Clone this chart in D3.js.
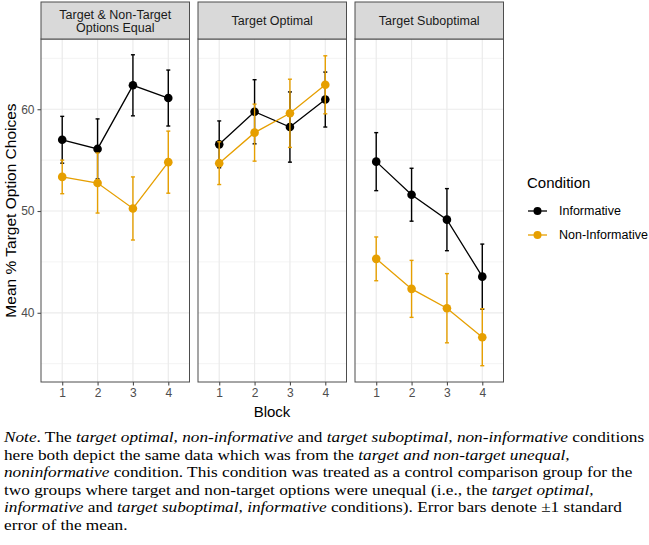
<!DOCTYPE html>
<html><head><meta charset="utf-8">
<script src="https://cdn.jsdelivr.net/npm/d3@7"></script>
<style>body{margin:0;background:#fff;} svg{display:block;}</style>
</head><body>
<svg id="c" width="649" height="545"></svg>
<script>
const facets = [["Target & Non-Target", "Options Equal"], ["Target Optimal"], ["Target Suboptimal"]];
const blocks = [1, 2, 3, 4];
const conditions = ["Informative", "Non-Informative"];
const colors = ["#000000", "#E69F00"];
// means [facet][condition][block]
const means = [
  [[57.0, 56.1, 62.35, 61.1], [53.35, 52.75, 50.25, 54.8]],
  [[56.55, 59.75, 58.25, 60.95], [54.7, 57.7, 59.6, 62.4]],
  [[54.85, 51.6, 49.15, 43.55], [45.3, 42.35, 40.45, 37.6]]
];
const ses = [
  [[2.3, 2.95, 3.0, 2.75], [1.65, 2.95, 3.1, 3.05]],
  [[2.3, 3.15, 3.45, 2.7], [2.1, 2.8, 3.35, 2.85]],
  [[2.85, 2.6, 3.05, 3.2], [2.15, 2.8, 3.4, 2.8]]
];
const yTicks = [40, 50, 60];
const yMinor = [35, 45, 55, 65];
const noteLines = [
  [["Note", "i"], [". The ", "n"], ["target optimal, non-informative", "i"], [" and ", "n"], ["target suboptimal, non-informative", "i"], [" conditions", "n"]],
  [["here both depict the same data which was from the ", "n"], ["target and non-target unequal,", "i"]],
  [["noninformative", "i"], [" condition. This condition was treated as a control comparison group for the", "n"]],
  [["two groups where target and non-target options were unequal (i.e., the ", "n"], ["target optimal,", "i"]],
  [["informative", "i"], [" and ", "n"], ["target suboptimal, informative", "i"], [" conditions). Error bars denote \u00b11 standard", "n"]],
  [["error of the mean.", "n"]]
];

const svg = d3.select("#c");
const font = "Liberation Sans, Arial, sans-serif";
const panelLeft = [41, 198, 355];
const panelW = 148.5;
const pTop = 39, pBottom = 382, stripTop = 2;
const y = d3.scaleLinear().domain([33.2, 66.9]).range([pBottom, pTop]);
const border = "#4d4d4d";

facets.forEach((fl, fi) => {
  const x0 = panelLeft[fi];
  const x = d3.scaleLinear().domain([0.4, 4.6]).range([x0, x0 + panelW]);
  const g = svg.append("g");
  // grid
  g.selectAll(".ymin").data(yMinor).join("line")
    .attr("x1", x0).attr("x2", x0 + panelW).attr("y1", d => y(d)).attr("y2", d => y(d))
    .attr("stroke", "#ebebeb").attr("stroke-width", 0.6);
  g.selectAll(".ymaj").data(yTicks).join("line")
    .attr("x1", x0).attr("x2", x0 + panelW).attr("y1", d => y(d)).attr("y2", d => y(d))
    .attr("stroke", "#ebebeb").attr("stroke-width", 1.2);
  g.selectAll(".xmaj").data(blocks).join("line")
    .attr("x1", d => x(d)).attr("x2", d => x(d)).attr("y1", pTop).attr("y2", pBottom)
    .attr("stroke", "#ebebeb").attr("stroke-width", 1.2);
  // data
  conditions.forEach((c, ci) => {
    const pts = blocks.map((b, i) => ({b, m: means[fi][ci][i], s: ses[fi][ci][i]}));
    const eg = g.append("g");
    eg.selectAll("line.v").data(pts).join("line")
      .attr("x1", d => x(d.b)).attr("x2", d => x(d.b))
      .attr("y1", d => y(d.m - d.s)).attr("y2", d => y(d.m + d.s))
      .attr("stroke", colors[ci]).attr("stroke-width", 1.4);
    [-1, 1].forEach(sg => {
      eg.selectAll("line.c" + (sg > 0 ? "t" : "b")).data(pts).join("line")
        .attr("x1", d => x(d.b) - 2).attr("x2", d => x(d.b) + 2)
        .attr("y1", d => y(d.m + sg * d.s)).attr("y2", d => y(d.m + sg * d.s))
        .attr("stroke", colors[ci]).attr("stroke-width", 1.4);
    });
    g.append("path").datum(pts)
      .attr("d", d3.line().x(d => x(d.b)).y(d => y(d.m)))
      .attr("fill", "none").attr("stroke", colors[ci]).attr("stroke-width", 1.3);
    g.selectAll(null).data(pts).join("circle")
      .attr("cx", d => x(d.b)).attr("cy", d => y(d.m)).attr("r", 4.3)
      .attr("fill", colors[ci]);
  });
  // border
  g.append("rect").attr("x", x0).attr("y", pTop).attr("width", panelW).attr("height", pBottom - pTop)
    .attr("fill", "none").attr("stroke", border).attr("stroke-width", 1);
  // strip
  g.append("rect").attr("x", x0).attr("y", stripTop).attr("width", panelW).attr("height", pTop - stripTop)
    .attr("fill", "#d9d9d9").attr("stroke", border).attr("stroke-width", 1);
  const st = g.append("text").attr("x", x0 + panelW / 2).attr("text-anchor", "middle")
    .attr("font-family", font).attr("font-size", 12.5).attr("fill", "#1a1a1a");
  if (fl.length === 1) {
    st.append("tspan").attr("x", x0 + panelW / 2).attr("y", 25).text(fl[0]);
  } else {
    st.append("tspan").attr("x", x0 + panelW / 2).attr("y", 18.5).text(fl[0]);
    st.append("tspan").attr("x", x0 + panelW / 2).attr("y", 32).text(fl[1]);
  }
  // x axis
  const ax = g.append("g").attr("transform", `translate(0,${pBottom})`)
    .call(d3.axisBottom(x).tickValues(blocks).tickFormat(d3.format("d")).tickSize(3.5).tickPadding(2.5));
  ax.select(".domain").remove();
  ax.selectAll("line").attr("stroke", border).attr("stroke-width", 1.1);
  ax.selectAll("text").attr("font-family", font).attr("font-size", 12).attr("fill", "#4d4d4d");
});

// y axis
const ay = svg.append("g").attr("transform", `translate(${panelLeft[0]},0)`)
  .call(d3.axisLeft(y).tickValues(yTicks).tickSize(3.5).tickPadding(3));
ay.select(".domain").remove();
ay.selectAll("line").attr("stroke", border).attr("stroke-width", 1.1);
ay.selectAll("text").attr("font-family", font).attr("font-size", 12).attr("fill", "#4d4d4d");

svg.append("text").attr("transform", `translate(11,${(pTop + pBottom) / 2}) rotate(-90)`)
  .attr("text-anchor", "middle").attr("dy", "0.35em")
  .attr("font-family", font).attr("font-size", 15.5).attr("fill", "#000").text("Mean % Target Option Choices");
svg.append("text").attr("x", 272).attr("y", 417)
  .attr("text-anchor", "middle").attr("font-family", font).attr("font-size", 15).attr("fill", "#000").text("Block");

// legend
const lg = svg.append("g");
lg.append("text").attr("x", 527).attr("y", 188).attr("font-family", font).attr("font-size", 15).text("Condition");
conditions.forEach((c, ci) => {
  const cy = 211 + ci * 24;
  lg.append("line").attr("x1", 528).attr("x2", 547).attr("y1", cy).attr("y2", cy)
    .attr("stroke", colors[ci]).attr("stroke-width", 1.3);
  lg.append("circle").attr("cx", 537.5).attr("cy", cy).attr("r", 4).attr("fill", colors[ci]);
  lg.append("text").attr("x", 559).attr("y", cy).attr("dy", "0.35em")
    .attr("font-family", font).attr("font-size", 12.5).attr("fill", "#000").text(c);
});

// note
const ng = svg.append("g");
noteLines.forEach((ln, li) => {
  const t = ng.append("text").attr("transform", `translate(4,${442 + li * 17.6}) scale(1.15,1)`)
    .attr("font-family", "Liberation Serif, Times New Roman, serif").attr("font-size", 15).attr("fill", "#000");
  ln.forEach(([s, st]) => t.append("tspan").attr("font-style", st === "i" ? "italic" : "normal").text(s));
});
</script>
</body></html>
